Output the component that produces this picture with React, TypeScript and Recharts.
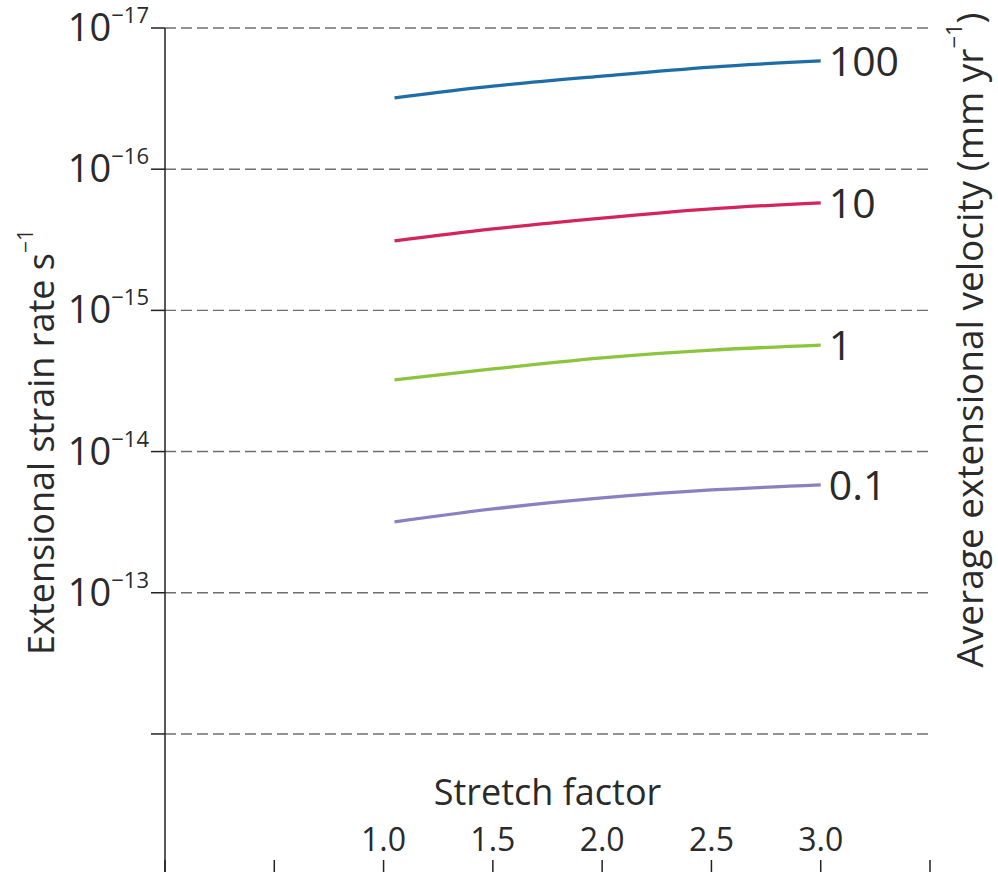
import React from 'react';
import { LineChart, Line, XAxis, YAxis, CartesianGrid, Label, LabelList } from 'recharts';

const stretchFactor = [1.05, 1.5, 2.0, 2.5, 3.0];
const rate100 = [3.13e-17, 2.58e-17, 2.19e-17, 1.89e-17, 1.71e-17];
const rate10 = [3.22e-16, 2.65e-16, 2.22e-16, 1.91e-16, 1.73e-16];
const rate1 = [3.11e-15, 2.6e-15, 2.17e-15, 1.91e-15, 1.76e-15];
const rate01 = [3.15e-14, 2.55e-14, 2.13e-14, 1.87e-14, 1.72e-14];

const seriesKeys = ['v100', 'v10', 'v1', 'v01'];
const seriesLabels = ['100', '10', '1', '0.1'];
const seriesColors = ['#1f6da6', '#d4245c', '#8cc43e', '#8a80c2'];

const xTicks = [0, 0.5, 1, 1.5, 2, 2.5, 3, 3.5];
const xTickLabels = ['', '', '1.0', '1.5', '2.0', '2.5', '3.0', ''];
const yTicks = [1e-17, 1e-16, 1e-15, 1e-14, 1e-13, 1e-12];
const yTickExponents = ['\u221217', '\u221216', '\u221215', '\u221214', '\u221213', ''];

const data = stretchFactor.map((s, i) => ({
  s,
  v100: rate100[i],
  v10: rate10[i],
  v1: rate1[i],
  v01: rate01[i],
}));

const FONT = '"Open Sans", sans-serif';
const TEXT = '#2a2a2a';

const XTick = (props: any) => {
  const { x, y, index } = props;
  const lbl = xTickLabels[index];
  if (!lbl) return null;
  return (
    <text x={x} y={y} textAnchor="middle" fontSize={32} fill={TEXT} fontFamily={FONT}>
      {lbl}
    </text>
  );
};

const YTick = (props: any) => {
  const { x, y, index } = props;
  const exp = yTickExponents[index];
  if (!exp) return null;
  return (
    <text x={x} y={y + 13} textAnchor="end" fontSize={38} fill={TEXT} fontFamily={FONT}>
      <tspan>10</tspan>
      <tspan fontSize={22} dy={-18}>{exp}</tspan>
    </text>
  );
};

const makeEndLabel = (label: string) => (p: any) => {
  if (p.index !== data.length - 1) return null;
  return (
    <text x={p.x + 8} y={p.y + 15} textAnchor="start" fontSize={41} fill={TEXT} fontFamily={FONT}>
      {label}
    </text>
  );
};

export default function App() {
  return (
    <div style={{ position: 'absolute', left: 0, top: 0, background: '#fff' }}>
      <LineChart
        width={998}
        height={872}
        data={data}
        margin={{ top: 28, right: 0, left: 0, bottom: 0 }}
      >
        <CartesianGrid
          yAxisId="l"
          vertical={false}
          syncWithTicks
          stroke="#6e6e6e"
          strokeDasharray="11 5"
          strokeWidth={1.4}
        />
        <XAxis
          dataKey="s"
          type="number"
          domain={[0, 3.5]}
          ticks={xTicks}
          interval={0}
          mirror
          height={1}
          tickSize={12}
          tickMargin={9}
          axisLine={false}
          tickLine={{ stroke: '#222', strokeWidth: 1.5 }}
          tick={<XTick />}
        >
          <Label
            content={(p: any) => {
              const vb = p.viewBox;
              return (
                <text x={vb.x + vb.width / 2} y={vb.y - 66} textAnchor="middle" fontSize={36} fill={TEXT} fontFamily={FONT}>
                  Stretch factor
                </text>
              );
            }}
          />
        </XAxis>
        <YAxis
          yAxisId="l"
          scale="log"
          domain={[1e-17, 9.5e-12]}
          allowDataOverflow
          reversed
          ticks={yTicks}
          interval={0}
          width={165}
          tickSize={14}
          tickMargin={2}
          axisLine={{ stroke: '#222', strokeWidth: 1.5 }}
          tickLine={{ stroke: '#222', strokeWidth: 1.5 }}
          tick={<YTick />}
        >
          <Label
            content={() => (
              <text
                transform="translate(40, 442) rotate(-90)"
                textAnchor="middle"
                dominantBaseline="central"
                fontSize={36}
                fill={TEXT}
                fontFamily={FONT}
              >
                <tspan>Extensional strain rate s</tspan>
                <tspan fontSize={21} dy={-15}>{'\u22121'}</tspan>
              </text>
            )}
          />
        </YAxis>
        <YAxis
          yAxisId="r"
          orientation="right"
          width={68}
          tick={false}
          axisLine={false}
          tickLine={false}
        >
          <Label
            content={(p: any) => {
              const vb = p.viewBox;
              return (
                <text
                  transform={`translate(${vb.x + 38}, ${vb.y + 312}) rotate(-90)`}
                  textAnchor="middle"
                  dominantBaseline="central"
                  fontSize={37}
                  fill={TEXT}
                  fontFamily={FONT}
                >
                  <tspan>Average extensional velocity (mm yr</tspan>
                  <tspan fontSize={22} dy={-15}>{'\u22121'}</tspan>
                  <tspan dy={15}>)</tspan>
                </text>
              );
            }}
          />
        </YAxis>
        {seriesKeys.map((k, i) => (
          <Line
            key={k}
            yAxisId="l"
            type="natural"
            dataKey={k}
            stroke={seriesColors[i]}
            strokeWidth={3.3}
            dot={false}
            isAnimationActive={false}
          >
            <LabelList dataKey={k} content={makeEndLabel(seriesLabels[i])} />
          </Line>
        ))}
      </LineChart>
    </div>
  );
}
